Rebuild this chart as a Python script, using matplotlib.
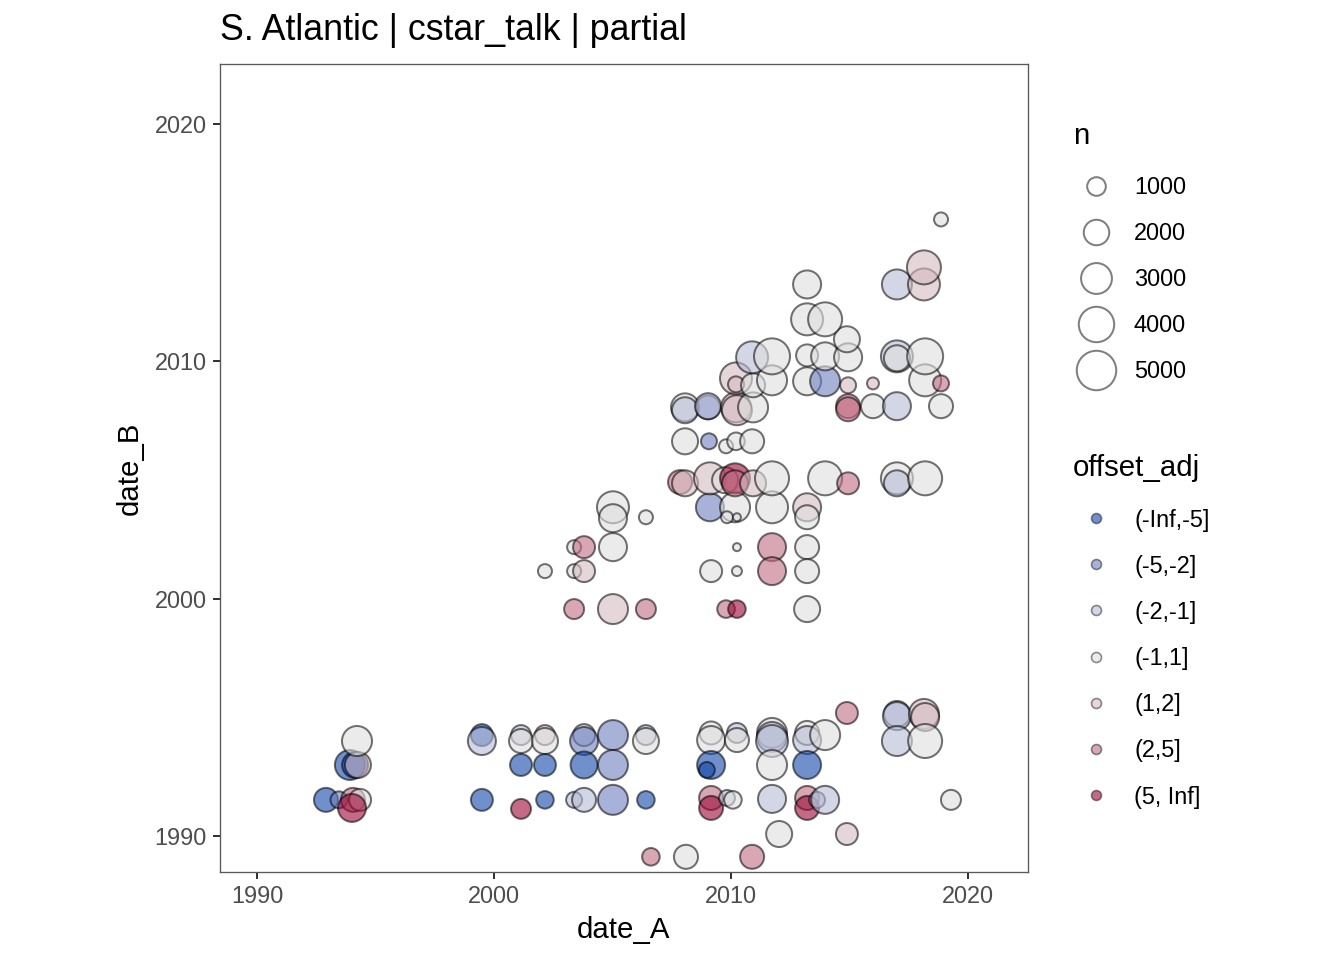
import numpy as np
import matplotlib.pyplot as plt

plt.rcParams['font.family'] = ['Liberation Sans', 'DejaVu Sans']

levels = ["(-Inf,-5]", "(-5,-2]", "(-2,-1]", "(-1,1]", "(1,2]", "(2,5]", "(5, Inf]"]
# fill colours, drawn with alpha 0.6
level_colors = ["#1146aa", "#6e7fbe", "#b6bbd5", "#dfdfdf", "#d5bbc1", "#c06c82", "#9b0737"]

# (date_A, date_B, n, offset level index)
date_A = [
    1992.91, 1993.46, 1994.05, 1994.35, 1994.01, 1993.92, 1994.14, 1994.26, 1994.22,
    1999.49, 1999.49, 1999.49, 2001.14, 2001.14, 2001.14, 2001.14,
    2002.15, 2002.15, 2002.15, 2002.15, 2003.38, 2003.80, 2003.80, 2003.80, 2003.80,
    2005.02, 2005.02, 2005.02, 2006.41, 2006.41, 2006.41, 2006.62, 2008.10, 2010.89,
    2009.16, 2009.16, 2009.16, 2008.98, 2010.25, 2010.25, 2009.16, 2009.16, 2009.83, 2010.08,
    2011.73, 2011.73, 2011.73, 2011.73, 2011.73, 2012.03,
    2013.21, 2013.21, 2013.97, 2013.21, 2013.21, 2013.21, 2013.63, 2013.97,
    2014.89, 2014.89, 2017.00, 2017.00, 2018.14, 2018.19, 2017.00, 2018.19, 2019.28,
    2002.15, 2003.38, 2003.80, 2003.38, 2003.80, 2005.02, 2005.02, 2005.02, 2006.41,
    2003.38, 2005.02, 2006.41, 2009.16, 2010.25, 2010.25, 2011.73, 2011.73, 2013.21, 2013.21,
    2009.79, 2010.25, 2013.21, 2009.11, 2010.17, 2009.83, 2010.25, 2011.73, 2013.21, 2013.21,
    2007.85, 2008.06, 2009.11, 2009.75, 2010.17, 2010.17, 2010.93, 2011.73, 2013.97, 2014.94,
    2017.00, 2017.00, 2018.19,
    2008.06, 2009.07, 2009.79, 2010.21, 2010.89,
    2008.06, 2008.06, 2009.03, 2009.03, 2010.21, 2010.25, 2010.93, 2014.94, 2014.94, 2015.99,
    2017.00, 2018.86,
    2010.21, 2010.21, 2010.93, 2011.73, 2013.21, 2013.97, 2014.94, 2015.99, 2018.19, 2018.86,
    2010.89, 2011.73, 2013.21, 2013.97, 2014.94, 2017.00, 2017.00, 2018.19, 2014.89,
    2013.21, 2013.97, 2013.21, 2017.00, 2018.14, 2018.14, 2018.86,
]
date_B = [
    1991.52, 1991.52, 1991.52, 1991.52, 1991.18, 1992.99, 1992.99, 1992.99, 1994.00,
    1994.25, 1994.00, 1991.52, 1994.25, 1994.00, 1992.99, 1991.14,
    1994.25, 1994.00, 1992.99, 1991.52, 1991.52, 1991.52, 1994.25, 1994.00, 1992.99,
    1994.25, 1992.99, 1991.52, 1994.25, 1994.00, 1991.52, 1989.12, 1989.12, 1989.12,
    1994.34, 1994.04, 1992.99, 1992.78, 1994.34, 1994.04, 1991.60, 1991.18, 1991.60, 1991.52,
    1994.34, 1994.17, 1994.00, 1992.99, 1991.56, 1990.08,
    1994.34, 1994.04, 1994.25, 1992.99, 1991.60, 1991.18, 1991.52, 1991.52,
    1995.18, 1990.08, 1995.14, 1995.05, 1995.14, 1995.01, 1994.00, 1994.00, 1991.52,
    2001.16, 2001.16, 2001.16, 2002.17, 2002.17, 2002.17, 2003.85, 2003.39, 2003.43,
    1999.56, 1999.56, 1999.56, 2001.16, 2001.16, 2002.17, 2002.17, 2001.16, 2002.17, 2001.16,
    1999.56, 1999.56, 1999.56, 2003.85, 2003.85, 2003.43, 2003.43, 2003.85, 2003.85, 2003.43,
    2004.91, 2004.86, 2005.07, 2004.99, 2005.07, 2004.86, 2004.86, 2005.07, 2005.07, 2004.86,
    2005.07, 2004.86, 2005.07,
    2006.63, 2006.63, 2006.42, 2006.63, 2006.63,
    2008.06, 2007.94, 2008.06, 2008.11, 2008.06, 2007.94, 2008.06, 2008.11, 2007.98, 2008.11,
    2008.11, 2008.11,
    2009.28, 2009.03, 2008.99, 2009.20, 2009.16, 2009.16, 2008.99, 2009.07, 2009.20, 2009.07,
    2010.17, 2010.21, 2010.25, 2010.21, 2010.17, 2010.21, 2010.13, 2010.21, 2010.93,
    2011.77, 2011.77, 2013.24, 2013.24, 2013.24, 2013.96, 2015.98,
]
n = [
    1990, 920, 1990, 1640, 2760, 3190, 2360, 2360, 3190,
    1640, 2760, 1640, 1330, 1990, 1640, 1330,
    1330, 2360, 1640, 1000, 800, 1990, 1640, 2760, 2550,
    3190, 3190, 3190, 1330, 2360, 1000, 1000, 1990, 1990,
    1810, 2760, 2760, 800, 1330, 1990, 1990, 1990, 800, 1000,
    3190, 3190, 3640, 3190, 2760, 2360,
    1990, 2760, 3190, 2760, 1990, 1990, 800, 2760,
    1640, 1640, 2360, 2760, 3190, 2760, 3190, 4130, 1330,
    580, 580, 1640, 580, 1640, 2760, 3640, 2760, 580,
    1330, 3190, 1330, 1640, 220, 90, 2760, 2760, 1990, 1990,
    1000, 1000, 2360, 2760, 3190, 380, 90, 3640, 2760, 1990,
    1990, 2360, 3640, 2360, 3190, 2360, 2360, 4130, 4130, 1640,
    3640, 2360, 4130,
    2360, 800, 580, 1000, 1990,
    2760, 2360, 1990, 2360, 3190, 3190, 3190, 1990, 1990, 1990,
    2760, 1990,
    3640, 800, 1990, 3190, 2760, 3190, 800, 380, 3640, 800,
    3640, 4650, 1640, 2760, 2760, 3640, 2360, 4650, 2360,
    3640, 4130, 2760, 3190, 3640, 4130, 580,
]
offset_adj = [
    0, 1, 5, 3, 6, 0, 0, 4, 3,
    0, 2, 0, 2, 3, 0, 6,
    4, 3, 0, 0, 2, 2, 2, 1, 0,
    1, 1, 1, 2, 3, 0, 5, 3, 5,
    3, 3, 0, 0, 2, 3, 5, 6, 2, 3,
    3, 2, 2, 3, 2, 3,
    3, 2, 3, 0, 5, 6, 2, 2,
    5, 4, 2, 2, 4, 4, 2, 3, 3,
    3, 3, 4, 3, 5, 3, 3, 3, 3,
    5, 4, 5, 3, 3, 3, 5, 5, 3, 3,
    5, 6, 3, 1, 3, 3, 3, 3, 4, 3,
    5, 4, 4, 3, 6, 5, 4, 3, 3, 5,
    3, 2, 3,
    3, 1, 3, 3, 3,
    3, 2, 1, 2, 4, 4, 3, 5, 5, 3,
    2, 3,
    4, 4, 3, 3, 3, 1, 4, 4, 3, 5,
    2, 3, 3, 3, 3, 2, 3, 3, 3,
    3, 3, 3, 2, 4, 4, 3,
]

legend_n = [1000, 2000, 3000, 4000, 5000]

ALPHA = 0.6
W, H = 1344, 960


def size_of(v):
    # area grows with n, diameter in px -> marker area in pt^2 at 192 dpi
    d_px = np.sqrt(40 + 0.27 * np.asarray(v, dtype=float))
    return (d_px * 72 / 192) ** 2


def rgba(hexcol, a):
    c = plt.matplotlib.colors.to_rgba(hexcol)
    return (c[0], c[1], c[2], a)


fig = plt.figure(figsize=(7, 5), dpi=192)
ax = fig.add_axes([220 / W, 1 - 872 / H, 808 / W, 808 / H])

face = [rgba(level_colors[k], ALPHA) for k in offset_adj]
ax.scatter(date_A, date_B, s=size_of(n), c=face,
           edgecolors=[(0, 0, 0, 0.55)] * len(n), linewidths=0.75, zorder=3)

ax.set_xlim(1988.44, 2022.53)
ax.set_ylim(1988.48, 2022.53)
ax.set_xticks([1990, 2000, 2010, 2020])
ax.set_yticks([1990, 2000, 2010, 2020])
ax.tick_params(length=2.75, width=0.75, color='#333333', labelcolor='#4d4d4d',
               labelsize=8.8, pad=2.2)
for sp in ax.spines.values():
    sp.set_color('#595959')
    sp.set_linewidth(0.5)

ax.set_xlabel('date_A', fontsize=11, labelpad=3)
ax.set_ylabel('date_B', fontsize=11, labelpad=4)
fig.text(220 / W, 1 - 30 / H, 'S. Atlantic | cstar_talk | partial',
         fontsize=13.4, ha='left', va='center')

# legends drawn on an overlay in pixel units
lg = fig.add_axes([0, 0, 1, 1], facecolor='none')
lg.set_xlim(0, W)
lg.set_ylim(H, 0)
lg.axis('off')

lg.text(1073, 136, 'n', fontsize=11, ha='left', va='center')
for i, v in enumerate(legend_n):
    yy = 186 + 46 * i
    lg.scatter([1096], [yy], s=size_of(v) * 1.12, facecolors='white',
               edgecolors='#7f7f7f', linewidths=0.75)
    lg.text(1134, yy + 2, str(v), fontsize=8.8, ha='left', va='center')

lg.text(1073, 468, 'offset_adj', fontsize=11, ha='left', va='center')
for i, lab in enumerate(levels):
    yy = 518 + 46.2 * i
    lg.scatter([1096], [yy], s=(10 * 72 / 192) ** 2,
               facecolors=[rgba(level_colors[i], ALPHA)],
               edgecolors=[(0, 0, 0, 0.45)], linewidths=0.6)
    lg.text(1134, yy + 2, lab, fontsize=8.8, ha='left', va='center')

fig.savefig('out.png', dpi=192)
